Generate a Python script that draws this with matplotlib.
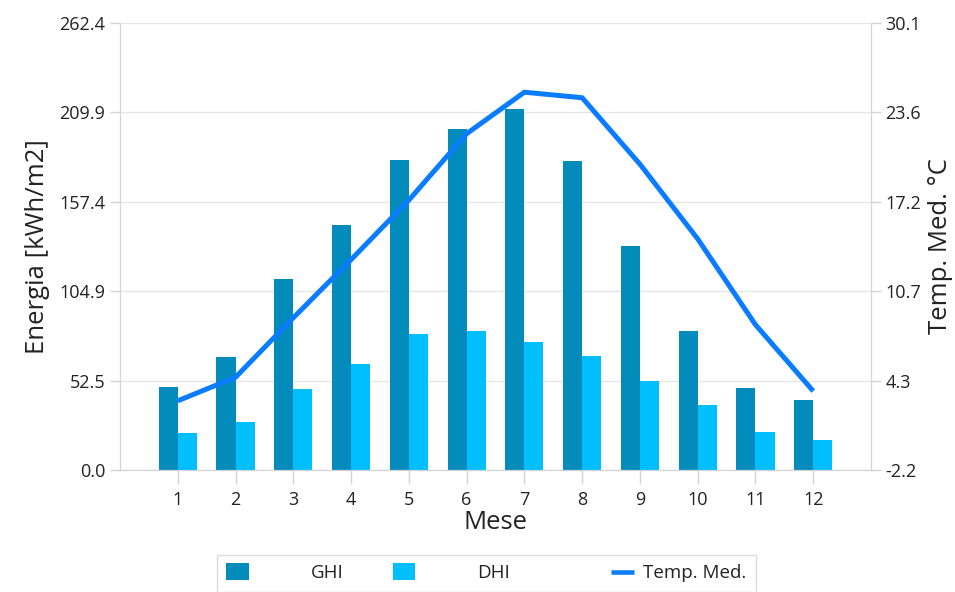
"""
Monthly GHI / DHI energy (bars) with mean temperature (line) on a second axis.
Output: out.png
"""
import numpy as np #For positions
import matplotlib.pyplot as plt #For plotting figures
import matplotlib.patches as mpatches #For legend boxes
from matplotlib.lines import Line2D #For legend line
from matplotlib.legend_handler import HandlerPatch, HandlerBase #For custom legend handles

mesi = [1, 2, 3, 4, 5, 6, 7, 8, 9, 10, 11, 12] #Months
ghi = [49.0, 66.2, 112.3, 143.6, 181.9, 200.1, 212.2, 181.1, 131.7, 81.8, 48.2, 41.2] #GHI kWh/m2
dhi = [21.5, 27.9, 47.5, 62.1, 79.7, 81.5, 75.0, 67.2, 52.4, 38.1, 22.3, 17.4] #DHI kWh/m2
temp = [2.8, 4.5, 8.8, 13.0, 17.3, 22.1, 25.1, 24.7, 19.9, 14.5, 8.3, 3.5] #Mean temperature degC

ticks_sx = [0.0, 52.48, 104.96, 157.44, 209.92, 262.4] #Left axis ticks
labels_sx = ['0.0', '52.5', '104.9', '157.4', '209.9', '262.4']
ticks_dx = [-2.2, 4.26, 10.72, 17.18, 23.64, 30.1] #Right axis ticks
labels_dx = ['-2.2', '4.3', '10.7', '17.2', '23.6', '30.1']

c_ghi = '#038BBB'
c_dhi = '#00BFFF'
c_temp = '#0A7CFF'
c_grid = '#E6E6E6'
c_spine = '#D4D4D4'
c_text = '#222222'

plt.rcParams['font.family'] = ['Open Sans', 'DejaVu Sans']

fig = plt.figure(figsize=(9.55, 5.92), dpi=100)
ax = fig.add_axes([120/955, 1-470/592, 751/955, 447/592])
ax2 = ax.twinx()

x = np.array(mesi)
w = 0.33
b1 = ax.bar(x - w/2, ghi, width=w, color=c_ghi, label='GHI', zorder=2)
b2 = ax.bar(x + w/2, dhi, width=w, color=c_dhi, label='DHI', zorder=2)
l1, = ax2.plot(x, temp, color=c_temp, linewidth=3.6, label='Temp. Med.', solid_capstyle='butt')

ax.set_xlim(0, 13)
ax.set_ylim(0, 262.4)
ax2.set_ylim(-2.2, 30.1)
ax.set_xticks(mesi)
ax.set_yticks(ticks_sx)
ax.set_yticklabels(labels_sx)
ax2.set_yticks(ticks_dx)
ax2.set_yticklabels(labels_dx)

ax.grid(axis='y', color=c_grid, linewidth=1, zorder=0)
ax.set_axisbelow(True)
for a in (ax, ax2):
    for s in a.spines.values():
        s.set_color(c_spine)
    a.spines['top'].set_visible(False)
    a.tick_params(colors=c_spine, labelcolor=c_text, labelsize=13, length=7, width=1)
ax.tick_params(axis='x', length=10, pad=5)

ax.set_xlabel('Mese', fontsize=18.5, color=c_text, labelpad=1)
ax.set_ylabel('Energia [kWh/m2]', fontsize=18.5, color=c_text, labelpad=7)
ax2.set_ylabel('Temp. Med. °C', fontsize=18.5, color=c_text, labelpad=5)

def box_handle(legend, orig_handle, xdescent, ydescent, width, height, fontsize): #Small square at left of handle box
    return mpatches.Rectangle((-xdescent, height/2 - ydescent - 6), 16, 12)

class ShortLine(HandlerBase): #Short thick line at right end of handle box
    def create_artists(self, legend, orig_handle, xdescent, ydescent, width, height, fontsize, trans):
        y = height/2 - ydescent
        x1 = width - xdescent
        ln = Line2D([x1 - 16.5, x1], [y, y], color=orig_handle.get_color(),
                    linewidth=3.3, solid_capstyle='butt', transform=trans)
        return [ln]

leg = ax.legend([b1[0], b2[0], l1], ['GHI', 'DHI', 'Temp. Med.'], ncol=3, loc='upper left',
                bbox_to_anchor=((217-120)/751, -0.19), borderaxespad=0, fontsize=13.5,
                frameon=True, fancybox=False,
                handlelength=3.98, handletextpad=0.5, columnspacing=2.65, borderpad=0.5,
                handler_map={mpatches.Rectangle: HandlerPatch(patch_func=box_handle),
                             Line2D: ShortLine()})
leg.get_frame().set_edgecolor(c_spine)
leg.get_frame().set_linewidth(1)
for t in leg.get_texts():
    t.set_color(c_text)

plt.savefig('out.png', dpi=100)
